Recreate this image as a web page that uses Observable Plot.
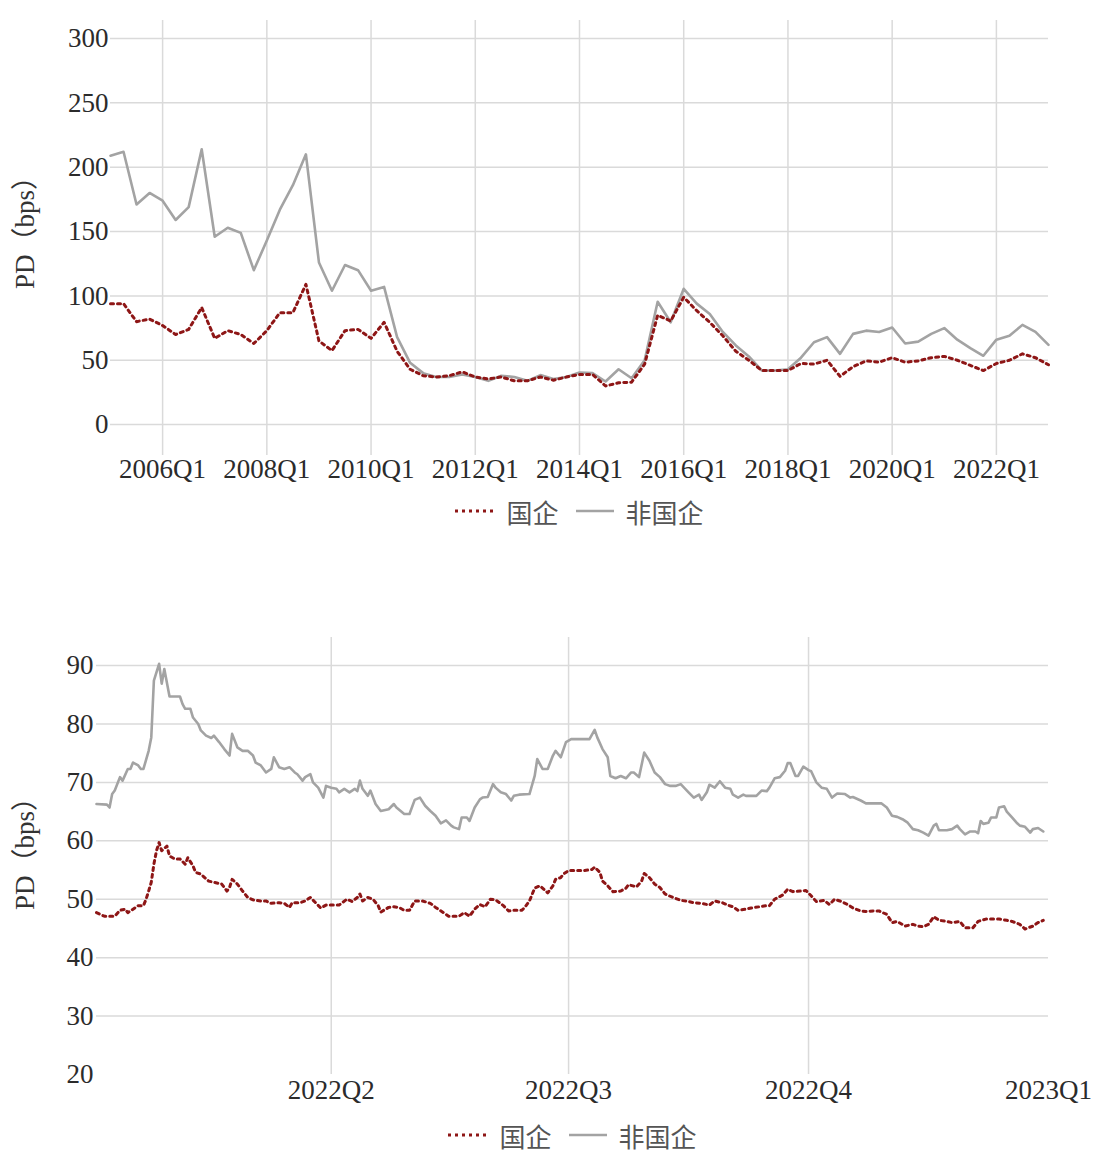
<!DOCTYPE html>
<html>
<head>
<meta charset="utf-8">
<script src="https://cdn.jsdelivr.net/npm/d3@7"></script>
<script src="https://cdn.jsdelivr.net/npm/@observablehq/plot@0.6"></script>
<style>
  body { margin: 0; background: #fff; font-family: "Liberation Serif", "Noto Sans CJK SC", serif; }
  #wrap { width: 1096px; }
  .legend { display: flex; justify-content: center; align-items: center; font-size: 26px; color: #555; box-sizing: border-box; width: 1096px; }
  .legend svg { display: block; }
  .legend span { margin: 0 17px 0 12px; }
</style>
</head>
<body>
<div id="wrap"></div>
<script>
// ---------- Data: quarterly (2005Q1 – 2023Q1) ----------
const firstYear = 2005;
const topXTicks = [2006, 2008, 2010, 2012, 2014, 2016, 2018, 2020, 2022];
const topYTicks = [0, 50, 100, 150, 200, 250, 300];
const seriesNames = ["国企", "非国企"];
// 非国企 (non-SOE)
const topNonSOE = [209, 212, 171, 180, 174, 159, 169, 214, 146, 153, 149, 120, 143, 167, 186, 210,
  126, 104, 124, 120, 104, 107, 68, 48, 40, 37, 37, 39, 37, 34, 38, 37,
  34, 38.5, 35.5, 37, 40.5, 40, 33.5, 43, 36, 50, 95.5, 79.5, 105.5, 94, 86, 72,
  61.5, 53, 42, 42, 43, 52, 64, 68, 55, 70.5, 73, 72, 75.5, 63, 64.5, 70.5,
  75, 66, 59.5, 53.5, 66, 69, 77.5, 72, 62];
// 国企 (SOE)
const topSOE = [94, 94, 80, 82, 77, 70, 74, 91, 67, 73, 70, 63, 73, 87, 87, 109,
  65, 57.5, 73, 74, 67, 79.5, 57, 43, 38, 37, 38, 41, 37, 35.5, 37, 34,
  34, 37, 34.5, 37, 39, 39, 30, 32.5, 33, 47, 85, 80.5, 99, 88.5, 79.5, 69,
  57, 50, 42, 42, 42, 47.5, 47, 50, 37.5, 45, 49.5, 48.5, 52, 48.5, 49.5, 52,
  53, 50, 46, 42, 47.5, 50, 55, 52, 46.5];

// ---------- Data: daily 2022 (day offset from 2022-01-01) ----------
const botXTicks = ["2022-04-01", "2022-07-01", "2022-10-01", "2023-01-01"];
const botXTickLabels = ["2022Q2", "2022Q3", "2022Q4", "2023Q1"];
const botYTicks = [20, 30, 40, 50, 60, 70, 80, 90];
const grayDays = [0,4,5,6,7,9,10,12,13,14,16,17,18,20,21,22,24,25,26,28,30,32,33,34,36,37,39,40,42,44,45,47,49,51,52,54,56,58,60,61,63,65,67,68,70,72,74,76,77,79,80,82,83,85,87,88,90,92,93,95,97,99,100,101,102,104,105,107,109,112,114,115,118,120,122,124,126,128,130,132,134,136,137,139,140,142,143,145,147,148,150,152,153,155,157,159,160,162,166,168,169,171,173,175,176,178,180,182,185,187,189,191,192,194,196,197,199,201,203,205,206,208,210,212,214,216,218,220,222,224,227,229,231,232,234,235,237,239,241,243,244,246,248,249,251,253,255,257,258,260,262,264,265,266,268,269,271,273,274,276,278,280,282,284,287,289,290,293,295,298,301,303,305,307,309,311,313,315,317,319,321,322,323,326,328,330,331,333,335,337,338,339,340,342,343,345,346,348,349,351,353,354,356,358,359,361,363];
const grayPD = [66.3,66.2,65.7,68,68.6,70.9,70.3,72.3,72.3,73.4,72.9,72.3,72.3,75.4,77.7,87.4,90.3,86.9,89.4,84.7,84.7,84.7,83.4,82.6,82.6,81.1,80,78.9,78,77.6,78,76.9,75.7,74.6,78.3,76,75.4,75.4,74.6,73.4,72.9,71.7,72.3,74.3,72.6,72.3,72.6,71.7,71.4,70.3,70.9,71.4,70,69.1,67.4,69.4,69.1,68.9,68.3,68.9,68.3,68.9,68.5,70.3,68.9,67.7,68.6,66.3,65.1,65.4,66.3,65.7,64.6,64.6,67,67.4,66,65.1,64.3,63,63.5,62.6,62.3,62,64,64,63.4,65.7,67.1,67.4,67.5,69.7,69.1,68.3,68,66.9,67.7,67.9,68,71.1,74,72.3,72.3,74.6,75.4,74.3,76.9,77.4,77.4,77.4,77.4,79,77.7,75.7,74.3,71.1,70.7,71.1,70.7,71.7,71.7,70.9,75.1,73.7,71.7,70.9,69.7,69.4,69.4,69.7,68.3,67.4,67.9,67,68.3,69.6,69.1,70.2,69.1,68.9,67.9,67.4,67.9,67.7,67.7,67.7,68.6,68.5,69.1,70.7,70.9,72,73.3,73.3,71.1,71.1,72.7,72.1,71.9,70,69.1,68.9,67.4,68.1,68,67.4,67.5,66.9,66.4,66.4,66.4,65.7,64.3,64.1,63.7,63.1,62,61.8,61.4,60.9,62.6,62.9,61.8,61.8,62,62.6,62,61.1,61.6,61.6,61.3,63.4,62.9,63.1,64,64,65.7,65.9,65,64,63,62.6,62.4,61.4,62,62.2,61.6];
const redDays = [0,3,5,7,9,11,12,14,16,18,19,20,21,22,23,24,25,27,28,30,32,34,35,37,38,40,43,45,48,50,51,52,54,56,58,60,63,65,67,70,72,74,75,78,80,82,84,86,88,91,93,96,98,100,101,102,104,106,108,109,112,114,116,118,120,122,125,128,130,133,135,137,139,141,143,145,147,149,151,153,156,158,160,163,164,166,168,170,171,173,175,176,178,179,181,183,185,187,190,191,193,194,196,198,201,203,204,207,209,210,212,214,216,218,221,224,226,229,232,235,237,240,242,244,246,249,251,254,257,258,260,263,265,267,270,272,274,276,279,281,283,285,288,290,293,295,298,300,303,305,307,310,313,315,317,319,321,323,326,328,331,333,336,338,341,343,346,349,351,354,356,359,361,363];
const redPD = [47.7,47.1,47.1,47.1,48.1,48.3,47.7,48.3,48.9,48.9,50,51.4,52.9,56,58.3,59.7,58.3,59.1,57.4,56.9,56.9,56,57.1,55.7,54.6,54.3,53.1,52.9,52.6,51.4,52,53.4,52.6,51.4,50.3,49.9,49.7,49.7,49.3,49.4,49.3,48.6,49.4,49.4,49.7,50.3,49.4,48.5,49,49,49,50,49.6,50.3,50.9,49.7,50.3,50,48.9,47.8,48.6,48.7,48.6,48.1,48.1,49.7,49.7,49.3,48.6,47.7,47.1,47.1,47.1,47.7,47.1,48.3,49.1,48.7,50,49.9,48.9,48,48.1,48.1,48.5,49.7,51.9,52.3,51.9,51.1,52.3,53.4,53.7,54.3,54.9,54.9,54.9,54.9,55.1,55.5,54.6,53.1,52.3,51.3,51.4,51.9,52.5,52.1,53.1,54.4,53.7,52.6,52,50.9,50.3,49.8,49.7,49.4,49.3,49,49.7,49.4,49,48.7,48.1,48.3,48.5,48.7,48.9,48.9,50,50.7,51.7,51.3,51.4,51.5,50.6,49.6,49.8,49.1,50,49.7,49.1,48.5,48,47.9,48,48,47.4,46,46.2,45.4,45.7,45.4,45.3,45.7,47,46.4,46.2,46,46.2,45.1,45.1,46.2,46.6,46.6,46.6,46.4,46.2,45.7,44.9,45.4,46,46.4];

// ---------- Styles ----------
const RED = "#8e1616";
const GRAY = "#a3a3a3";
const GRID = "#dadada";
const FONT = '"Liberation Serif", "Noto Sans CJK SC", serif';
const yLabel = "PD（bps）";

const wrap = document.getElementById("wrap");

function legend(height, padLeft) {
  const d = document.createElement("div");
  d.className = "legend";
  d.style.height = height + "px";
  d.style.paddingLeft = padLeft + "px";
  d.innerHTML =
    `<svg width="40" height="10"><line x1="1" y1="5" x2="39" y2="5" stroke="${RED}" stroke-width="3" stroke-dasharray="3 4"/></svg>` +
    `<span>${seriesNames[0]}</span>` +
    `<svg width="38" height="10"><line x1="0" y1="5" x2="38" y2="5" stroke="${GRAY}" stroke-width="2.5"/></svg>` +
    `<span style="margin-right:0">${seriesNames[1]}</span>`;
  return d;
}

// ---------- Top chart ----------
const topNon = topNonSOE.map((v, i) => ({t: firstYear + i / 4, v}));
const topS = topSOE.map((v, i) => ({t: firstYear + i / 4, v}));

const chartTop = Plot.plot({
  width: 1096, height: 490,
  marginTop: 20, marginBottom: 35, marginLeft: 110, marginRight: 48,
  style: {fontFamily: FONT, fontSize: "27px", color: "#2b2b2b", background: "#fff"},
  x: {type: "linear", domain: [2005, 2023]},
  y: {domain: [-24, 314]},
  marks: [
    Plot.ruleY(topYTicks, {stroke: GRID, strokeWidth: 1.5}),
    Plot.ruleX(topXTicks, {stroke: GRID, strokeWidth: 1.5}),
    Plot.axisY({ticks: topYTicks, tickSize: 0, tickPadding: 2, label: null}),
    Plot.axisX({ticks: topXTicks, tickFormat: d => d + "Q1", tickSize: 0, tickPadding: 3, label: null}),
    Plot.line(topNon, {x: "t", y: "v", stroke: GRAY, strokeWidth: 2.6}),
    Plot.line(topS, {x: "t", y: "v", stroke: RED, strokeWidth: 3, strokeDasharray: "3 4"}),
    Plot.text([yLabel], {frameAnchor: "left", textAnchor: "middle", dx: -85, dy: -12, rotate: -90, fontSize: 27, fill: "#333"})
  ]
});
wrap.appendChild(chartTop);
wrap.appendChild(legend(42, 110 - 48));
const gap = document.createElement("div");
gap.style.height = "83px";
wrap.appendChild(gap);

// ---------- Bottom chart ----------
const day0 = new Date(Date.UTC(2022, 0, 1));
const botNon = grayDays.map((d, i) => ({date: d3.utcDay.offset(day0, d), v: grayPD[i]}));
const botS = redDays.map((d, i) => ({date: d3.utcDay.offset(day0, d), v: redPD[i]}));
const tickDates = botXTicks.map(s => new Date(s + "T00:00:00Z"));
const tickLabel = new Map(tickDates.map((d, i) => [+d, botXTickLabels[i]]));

const chartBottom = Plot.plot({
  width: 1096, height: 504,
  marginTop: 22, marginBottom: 45, marginLeft: 96, marginRight: 48,
  style: {fontFamily: FONT, fontSize: "27px", color: "#2b2b2b", background: "#fff"},
  x: {type: "utc", domain: [day0, new Date(Date.UTC(2023, 0, 1))]},
  y: {domain: [20, 94.8]},
  marks: [
    Plot.ruleY(botYTicks.filter(v => v > 20), {stroke: GRID, strokeWidth: 1.5}),
    Plot.ruleX(tickDates.slice(0, 3), {stroke: GRID, strokeWidth: 1.5}),
    Plot.axisY({ticks: botYTicks, tickSize: 0, tickPadding: 3, label: null}),
    Plot.axisX({ticks: tickDates, tickFormat: d => tickLabel.get(+d), tickSize: 0, tickPadding: 5, label: null}),
    Plot.line(botNon, {x: "date", y: "v", stroke: GRAY, strokeWidth: 2.6}),
    Plot.line(botS, {x: "date", y: "v", stroke: RED, strokeWidth: 3, strokeDasharray: "3 4"}),
    Plot.text([yLabel], {frameAnchor: "left", textAnchor: "middle", dx: -71, dy: -9, rotate: -90, fontSize: 27, fill: "#333"})
  ]
});
wrap.appendChild(chartBottom);
wrap.appendChild(legend(32, 96 - 48));
</script>
</body>
</html>
